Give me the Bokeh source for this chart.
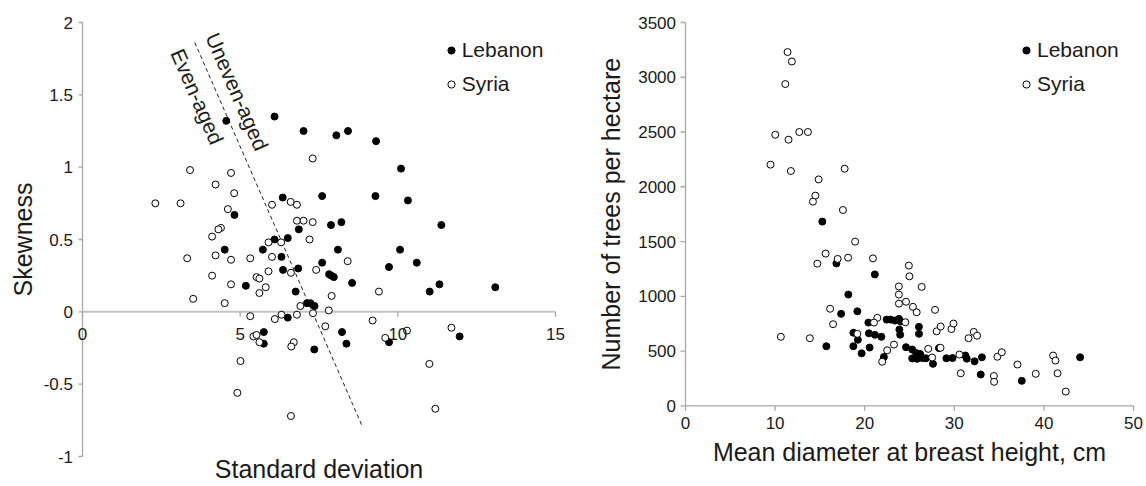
import math
from bokeh.plotting import figure
from bokeh.layouts import row
from bokeh.models import (ColumnDataSource, Legend, LegendItem, LabelSet, Label, Range1d)
from bokeh.core.properties import value
from bokeh.embed import file_html
from bokeh.resources import INLINE

# ---------------- data ----------------
# Left panel: standard deviation vs skewness of diameter distributions
leb_sd = [4.56, 6.09, 4.82, 6.35, 6.86, 6.09, 6.51, 4.51, 5.72, 6.31, 6.36, 6.84, 5.18, 6.76,
          6.51, 7.12, 7.23, 7.36, 8.23, 8.37, 7.35, 9.72, 11.96, 5.75, 5.75, 7.01, 8.05, 8.42,
          9.31, 10.10, 7.60, 9.29, 10.32, 7.88, 8.21, 11.38, 8.10, 10.07, 7.60, 9.72, 10.60,
          7.82, 7.89, 7.97, 8.55, 11.01, 11.32, 13.09]
leb_skew = [1.32, 1.35, 0.67, 0.79, 0.57, 0.50, 0.51, 0.43, 0.43, 0.38, 0.29, 0.30, 0.18, 0.14,
            -0.04, 0.06, 0.06, 0.04, -0.14, -0.22, -0.26, -0.21, -0.17, -0.14, -0.22, 1.25, 1.22, 1.25,
            1.18, 0.99, 0.80, 0.80, 0.77, 0.60, 0.62, 0.60, 0.43, 0.43, 0.34, 0.31, 0.34,
            0.26, 0.25, 0.24, 0.20, 0.14, 0.19, 0.17]
syr_sd = [3.41, 2.31, 3.11, 4.22, 4.71, 4.81, 4.61, 6.01, 6.60, 6.80, 6.80, 7.01, 7.30, 7.30,
          4.39, 4.31, 4.11, 5.90, 6.30, 7.20, 3.32, 4.22, 4.71, 5.32, 6.01, 5.90, 6.61, 4.11,
          5.52, 5.61, 4.71, 5.81, 5.61, 3.51, 4.51, 6.91, 7.41, 8.41, 7.90, 9.40, 5.32, 6.10,
          6.31, 6.80, 7.31, 7.81, 7.70, 9.20, 9.60, 10.29, 11.70, 11.00, 11.19, 6.61, 5.01,
          4.91, 5.42, 5.52, 5.61, 6.70, 6.62]
syr_skew = [0.98, 0.75, 0.75, 0.88, 0.96, 0.82, 0.71, 0.74, 0.76, 0.74, 0.63, 0.63, 0.62, 1.06,
            0.58, 0.57, 0.52, 0.48, 0.48, 0.50, 0.37, 0.39, 0.36, 0.37, 0.38, 0.28, 0.27, 0.25,
            0.24, 0.23, 0.19, 0.17, 0.13, 0.09, 0.06, 0.04, 0.29, 0.35, 0.11, 0.14, -0.03, -0.05,
            -0.02, -0.02, -0.01, 0.01, -0.10, -0.06, -0.18, -0.13, -0.11, -0.36, -0.67, -0.72, -0.34,
            -0.56, -0.17, -0.16, -0.21, -0.21, -0.24]
# boundary between even-aged and uneven-aged stands
boundary_sd = [3.56, 8.88]
boundary_skew = [1.862, -0.795]
zone_labels = ["Uneven-aged", "Even-aged"]

# Right panel: mean diameter vs number of trees per hectare
leb_dbh = [15.27, 16.84, 18.17, 17.37, 19.18, 15.72, 18.74, 19.24, 18.73, 19.66, 21.13, 20.41,
           20.55, 20.47, 21.14, 21.86, 22.45, 22.90, 23.38, 23.82, 24.01, 23.87, 23.96, 26.05,
           26.06, 22.14, 24.61, 25.30, 25.75, 26.19, 25.30, 25.86, 26.45, 26.84, 27.62, 28.29,
           29.12, 29.80, 31.24, 31.39, 32.26, 33.08, 32.95, 37.53, 44.04]
leb_density = [1682, 1300, 1016, 840, 863, 544, 667, 603, 544, 479, 1200, 760,
               532, 662, 648, 630, 787, 787, 778, 794, 769, 696, 649, 721,
               657, 445, 535, 514, 482, 473, 433, 429, 436, 434, 383, 527,
               434, 436, 459, 430, 406, 443, 286, 228, 443]
syr_dbh = [11.39, 11.87, 11.14, 10.02, 11.50, 12.70, 13.66, 9.49, 11.76, 14.86, 17.76, 14.49,
           14.22, 17.57, 18.93, 15.64, 14.71, 16.98, 18.15, 16.14, 16.47, 10.64, 13.88, 20.92,
           24.93, 24.99, 26.36, 23.81, 23.81, 23.82, 24.61, 25.38, 25.80, 27.85, 21.41, 21.03,
           19.18, 24.54, 28.03, 28.48, 29.68, 29.91, 32.17, 32.54, 31.59, 23.27, 22.51, 21.95,
           27.09, 27.53, 28.46, 30.57, 30.72, 34.42, 34.44, 34.81, 35.30, 37.05, 39.09, 41.03,
           41.29, 41.52, 42.44]
syr_density = [3230, 3144, 2938, 2475, 2430, 2500, 2500, 2202, 2144, 2067, 2165, 1919,
               1864, 1788, 1499, 1390, 1298, 1341, 1353, 886, 745, 630, 617, 1346,
               1280, 1182, 1086, 1090, 1016, 933, 950, 904, 854, 876, 803, 760,
               657, 763, 680, 724, 701, 751, 675, 640, 617, 559, 507, 402,
               520, 441, 530, 468, 297, 272, 219, 448, 489, 377, 292, 459,
               413, 297, 130]

sd_ticks = [0, 5, 10, 15]
skew_ticks = [-1, -0.5, 0, 0.5, 1, 1.5, 2]
dbh_ticks = [0, 10, 20, 30, 40, 50]
density_ticks = [0, 500, 1000, 1500, 2000, 2500, 3000, 3500]
series_names = ["Lebanon", "Syria"]
axis_titles = {"sd": "Standard deviation", "skew": "Skewness",
               "dbh": "Mean diameter at breast height, cm", "density": "Number of trees per hectare"}

# ---------------- layout / style ----------------
FONT = "Liberation Sans"
TXT = "#1a1a1a"
AXC = "#a8a8a8"
MS = 7
W1, W2, H = 576, 568, 484


def ranges_for(t0, t1, px0, px1, size, flip=False):
    """Range whose tick span [t0, t1] lands on canvas pixels [px0, px1]."""
    if not flip:
        s = (px1 - px0) / (t1 - t0)
        return Range1d(t0 - px0 / s, t1 + (size - px1) / s), s
    # vertical: px0 is pixel of t0 (lower value), px1 pixel of t1, measured from top
    s = (px0 - px1) / (t1 - t0)
    return Range1d(t0 - (size - px0) / s, t1 + px1 / s), s


def make_fig(w, xr, yr):
    p = figure(width=w, height=H, x_range=xr, y_range=yr, output_backend="svg",
               toolbar_location=None, x_axis_location=None, y_axis_location=None,
               min_border=0)
    p.min_border_left = p.min_border_right = p.min_border_top = p.min_border_bottom = 0
    p.grid.visible = False
    p.outline_line_color = None
    p.background_fill_color = "white"
    p.border_fill_color = "white"
    return p


def draw_axes(p, xt, yt, xs, ys, x_line, xlab_dy, xtitle, xtitle_dy, ytitle, ytitle_dx,
              ytick_len, xtick_len):
    # y axis line + ticks + labels
    p.segment(x0=[xt[0]], y0=[yt[0]], x1=[xt[0]], y1=[yt[-1]], line_color=AXC, line_width=1.3)
    p.segment(x0=[xt[0]] * len(yt), y0=yt, x1=[xt[0] - ytick_len / xs] * len(yt), y1=yt,
              line_color=AXC, line_width=1.3)
    ysrc = ColumnDataSource(dict(x=[xt[0]] * len(yt), y=yt, t=[str(v) for v in yt]))
    p.add_layout(LabelSet(x="x", y="y", text="t", source=ysrc, x_offset=-9.5,
                          text_align="right", text_baseline="middle",
                          text_font=value(FONT), text_font_size="17px", text_color=TXT))
    # x axis line (through y = 0) + ticks + labels
    lc, lw = x_line
    p.segment(x0=[xt[0]], y0=[0], x1=[xt[-1]], y1=[0], line_color=lc, line_width=lw)
    p.segment(x0=xt, y0=[0] * len(xt), x1=xt, y1=[-xtick_len / ys] * len(xt),
              line_color=AXC, line_width=1.3)
    xsrc = ColumnDataSource(dict(x=xt, y=[0] * len(xt), t=[str(v) for v in xt]))
    p.add_layout(LabelSet(x="x", y="y", text="t", source=xsrc, y_offset=xlab_dy,
                          text_align="center", text_baseline="middle",
                          text_font=value(FONT), text_font_size="17px", text_color=TXT))
    # axis titles
    p.add_layout(Label(x=(xt[0] + xt[-1]) / 2, y=xtitle[1], y_offset=xtitle_dy, text=xtitle[0],
                       text_align="center", text_baseline="middle",
                       text_font=FONT, text_font_size="25px", text_color=TXT))
    p.add_layout(Label(x=xt[0], y=(yt[0] + yt[-1]) / 2, x_offset=ytitle_dx, text=ytitle,
                       angle=math.pi / 2, text_align="center", text_baseline="middle",
                       text_font=FONT, text_font_size="25px", text_color=TXT))


def make_legend(p, r1, r2, loc):
    leg = Legend(items=[LegendItem(label=value(series_names[0]), renderers=[r1]),
                        LegendItem(label=value(series_names[1]), renderers=[r2])],
                 location=loc)
    leg.border_line_color = None
    leg.background_fill_alpha = 0
    leg.padding = 0
    leg.margin = 0
    leg.spacing = 8
    leg.glyph_width = 18
    leg.glyph_height = 26
    leg.label_height = 26
    leg.label_standoff = 2
    leg.label_text_font = FONT
    leg.label_text_font_size = "21px"
    leg.label_text_color = TXT
    leg.label_text_baseline = "middle"
    p.add_layout(leg)


# ---------------- left panel ----------------
xr1, xs1 = ranges_for(sd_ticks[0], sd_ticks[-1], 82, 555, W1)
yr1, ys1 = ranges_for(skew_ticks[0], skew_ticks[-1], 456, 22, H, flip=True)
p1 = make_fig(W1, xr1, yr1)
draw_axes(p1, sd_ticks, skew_ticks, xs1, ys1, ("#c4c4c4", 2), -22.3,
          (axis_titles["sd"], skew_ticks[0]), -12, axis_titles["skew"], -59.3, 4, 5)

p1.line(boundary_sd, boundary_skew, line_color="#222222", line_width=1, line_dash="4 3")
p1.text(x=[4.90, 3.64], y=[1.522, 1.488], text=zone_labels,
        angle=-1.159, text_align="center", text_baseline="middle",
        text_font=value(FONT), text_font_size="21px", text_color=TXT)

r_leb1 = p1.scatter(leb_sd, leb_skew, size=MS, fill_color="black", line_color="black", line_width=1)
r_syr1 = p1.scatter(syr_sd, syr_skew, size=MS, fill_color="white", line_color="black", line_width=1)
make_legend(p1, r_leb1, r_syr1, (441.7, 387))

# ---------------- right panel ----------------
xr2, xs2 = ranges_for(dbh_ticks[0], dbh_ticks[-1], 109, 557, W2)
yr2, ys2 = ranges_for(density_ticks[0], density_ticks[-1], 405.3, 22, H, flip=True)
p2 = make_fig(W2, xr2, yr2)
draw_axes(p2, dbh_ticks, density_ticks, xs2, ys2, (AXC, 1.3), -17.4,
          (axis_titles["dbh"], density_ticks[0]), -45.7, axis_titles["density"], -74.2, 5, 5)

r_leb2 = p2.scatter(leb_dbh, leb_density, size=MS, fill_color="black", line_color="black", line_width=1)
r_syr2 = p2.scatter(syr_dbh, syr_density, size=MS, fill_color="white", line_color="black", line_width=1)
make_legend(p2, r_leb2, r_syr2, (441, 387))

layout = row(p1, p2)
open("out.html", "w").write(file_html(layout, INLINE))
